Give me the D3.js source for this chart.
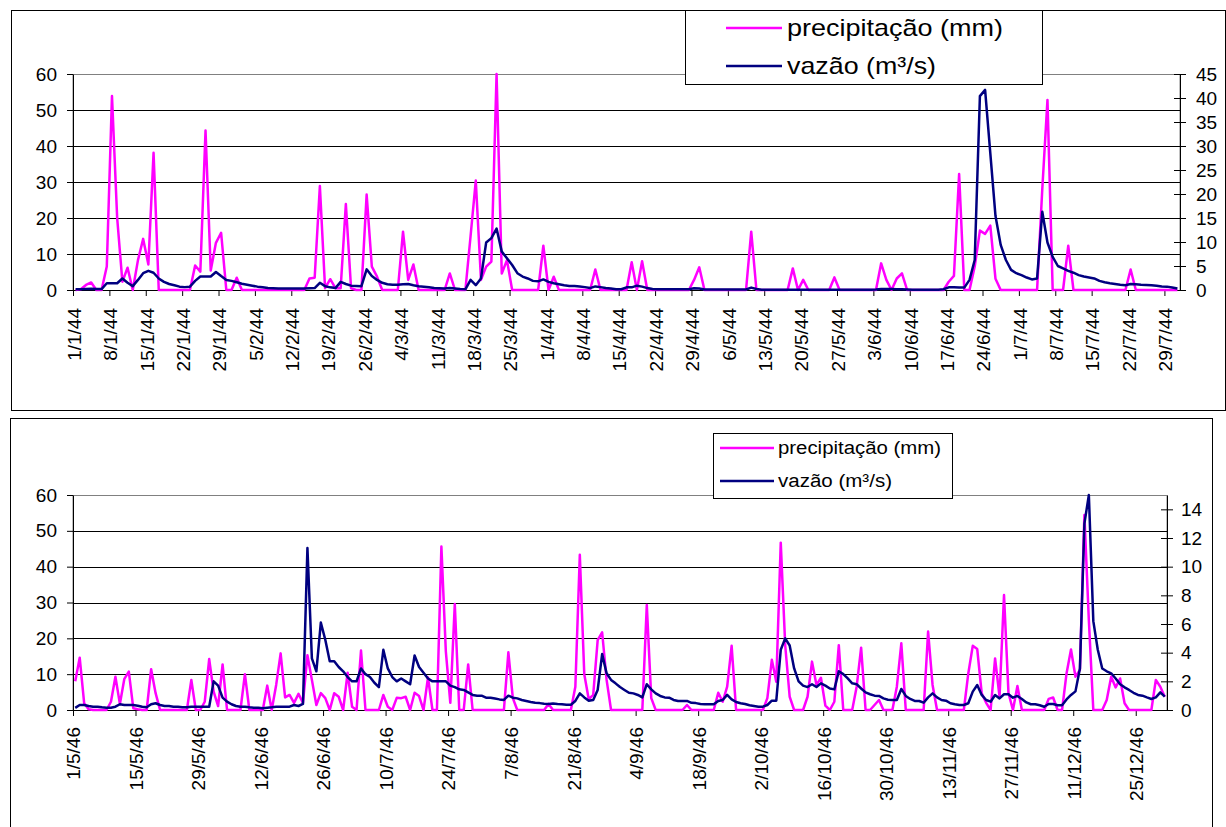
<!DOCTYPE html>
<html>
<head>
<meta charset="utf-8">
<script src="https://cdn.jsdelivr.net/npm/d3@7"></script>
<style>
  body { margin: 0; background: #fff; }
  svg { display: block; }
</style>
</head>
<body>
<div id="chart"></div>
<script>
// daily values, one row per week
const precip1944 = [
  0, 0.2, 1.4, 2.1, 0, 0, 6.5,
  53.9, 20, 2.3, 6.2, 0, 8.3, 14.2,
  7.1, 38.1, 0, 0, 0, 0, 0,
  0, 0, 6.8, 5.1, 44.3, 5.4, 13.1,
  15.9, 0, 0, 3.4, 0, 0, 0,
  0, 0, 0, 0, 0, 0, 0,
  0, 0, 0, 3.2, 3.4, 28.9, 0.5,
  3.0, 0.5, 0.5, 23.9, 0.5, 0, 0,
  26.5, 6.5, 3.7, 0, 0, 0, 0,
  16.2, 2.8, 7.1, 0, 0, 0, 0,
  0, 0, 4.6, 0, 0, 0, 15,
  30.4, 2.8, 6.5, 7.9, 60, 4.6, 8.3,
  0, 0, 0, 0, 0, 0, 12.3,
  0, 3.7, 0, 0, 0, 0, 0,
  0, 0, 5.7, 0, 0, 0, 0,
  0, 0, 7.7, 0, 8.0, 0, 0,
  0, 0, 0, 0, 0, 0, 0,
  2.8, 6.3, 0, 0, 0, 0, 0,
  0, 0, 0, 0, 16.2, 0, 0,
  0, 0, 0, 0, 0, 6.0, 0,
  2.8, 0, 0, 0, 0, 0, 3.5,
  0, 0, 0, 0, 0, 0, 0,
  0, 7.4, 2.8, 0, 3.2, 4.6, 0,
  0, 0, 0, 0, 0, 0, 0,
  2.3, 3.9, 32.2, 0, 0, 6.5, 16.5,
  15.6, 17.9, 3.1, 0, 0, 0, 0,
  0, 0, 0, 0, 28, 52.8, 0,
  0, 0, 12.3, 0, 0, 0, 0,
  0, 0, 0, 0, 0, 0, 0,
  5.7, 0, 0, 0, 0, 0, 0,
  0, 0, 0
];

const flow1944 = [
  0.15, 0.15, 0.2, 0.25, 0.2, 0.2, 1.4,
  1.4, 1.4, 2.4, 1.5, 0.8, 2.1, 3.5,
  4.0, 3.6, 2.4, 1.7, 1.25, 1.0, 0.7,
  0.6, 0.7, 1.9, 2.8, 2.8, 2.8, 3.75,
  2.9, 2.1, 1.9, 1.6, 1.3, 1.1, 0.9,
  0.7, 0.55, 0.4, 0.35, 0.3, 0.3, 0.3,
  0.3, 0.3, 0.3, 0.35, 0.4, 1.5, 0.8,
  0.55, 0.4, 1.7, 1.25, 0.9, 0.85, 0.8,
  4.3, 2.9, 2.1, 1.5, 1.2, 1.1, 1.1,
  1.2, 1.25, 1.0, 0.8, 0.7, 0.55, 0.4,
  0.35, 0.3, 0.4, 0.3, 0.2, 0.15, 2.1,
  1.0, 2.4, 9.9, 10.8, 12.8, 8.0, 6.6,
  5.2, 3.5, 2.8, 2.4, 1.9, 1.8, 2.2,
  1.7, 1.4, 1.2, 1.0, 0.85, 0.85, 0.75,
  0.6, 0.4, 0.75, 0.6, 0.4, 0.3, 0.15,
  0.15, 0.55, 0.55, 0.9, 0.7, 0.4, 0.2,
  0.15, 0.15, 0.15, 0.15, 0.15, 0.15, 0.15,
  0.35, 0.3, 0.1, 0.1, 0.1, 0.1, 0.1,
  0.1, 0.1, 0.1, 0.1, 0.5, 0.2, 0.05,
  0.05, 0.05, 0.05, 0.05, 0.05, 0.05, 0.05,
  0.05, 0.05, 0.05, 0.05, 0.05, 0.05, 0.05,
  0.05, 0.05, 0.05, 0.05, 0.05, 0.05, 0.05,
  0.1, 0.2, 0.2, 0.2, 0.15, 0.15, 0.1,
  0.05, 0.05, 0.05, 0.05, 0.05, 0.05, 0.15,
  0.55, 0.55, 0.5, 0.5, 2.1, 6.25, 40.4,
  41.7, 28.5, 15.4, 9.4, 6.25, 4.2, 3.5,
  3.1, 2.6, 2.2, 2.4, 16.3, 9.9, 6.9,
  5.0, 4.5, 4.0, 3.6, 3.1, 2.8, 2.6,
  2.4, 1.9, 1.6, 1.4, 1.25, 1.1, 1.0,
  1.25, 1.2, 1.1, 1.05, 1.0, 0.9, 0.75,
  0.7, 0.5, 0.3
];

const ticks1944 = ["1/1/44", "8/1/44", "15/1/44", "22/1/44", "29/1/44", "5/2/44", "12/2/44",
  "19/2/44", "26/2/44", "4/3/44", "11/3/44", "18/3/44", "25/3/44", "1/4/44", "8/4/44",
  "15/4/44", "22/4/44", "29/4/44", "6/5/44", "13/5/44", "20/5/44", "27/5/44", "3/6/44",
  "10/6/44", "17/6/44", "24/6/44", "1/7/44", "8/7/44", "15/7/44", "22/7/44", "29/7/44"];

const precip1946 = [
  8, 14.6, 1.9, 0.2, 0, 0, 0,
  0, 2.3, 9.3, 1.7, 8.7, 10.7, 0.5,
  0.2, 0, 0, 11.4, 4.7, 0, 0,
  0, 0, 0, 0, 0, 8.4, 0,
  0, 2.3, 14.2, 5.1, 1.1, 12.7, 0,
  0, 0, 0, 10, 0, 0, 0,
  0, 6.8, 0, 7, 15.8, 3.5, 4.2,
  2.0, 4.5, 2.0, 15.3, 8.4, 1.4, 4.7,
  3.3, 0, 4.7, 3.7, 0, 10.4, 0.9,
  0, 16.6, 0, 0, 0, 0, 4.2,
  0.9, 0, 3.4, 3.3, 3.7, 0, 4.8,
  3.9, 0, 9.1, 0, 0, 45.6, 16.3,
  2.0, 29.6, 0, 0, 12.7, 0, 0,
  0, 0, 0, 0, 0, 0, 16.1,
  3.3, 0, 0, 0, 0, 0, 0,
  0, 1.7, 0, 0, 0, 0, 0,
  6.5, 43.3, 10, 3, 4.2, 19.5, 21.7,
  8.4, 0, 0, 0, 0, 0, 0,
  0, 0, 29.3, 3.3, 0, 0, 0,
  0, 0, 0, 0, 1.4, 0, 0,
  0, 0, 0, 0, 4.8, 2.3, 6.5,
  17.9, 0, 0, 0, 0, 0, 0,
  0, 3.3, 14.0, 7.9, 46.7, 18, 3.7,
  0, 0, 0, 3.7, 13.5, 7.0, 9.0,
  1.2, 0, 2.3, 18.1, 0, 0, 0,
  6.5, 17.4, 0, 0, 1.4, 2.8, 0,
  0, 0, 6.5, 18.6, 0, 0, 0,
  0, 0, 21.9, 7.0, 0, 0, 0,
  0, 0, 0, 0, 10.2, 17.9, 17.0,
  4.7, 2.0, 0, 14.4, 3.7, 32.1, 4.7,
  0, 6.7, 0, 0, 0, 0, 0,
  0, 3.1, 3.5, 0, 0, 10.2, 16.9,
  9.3, 11.2, 54.4, 25, 0, 0, 0,
  2.8, 9.3, 6.3, 8.8, 1.9, 0, 0,
  0, 0, 0, 0, 8.4, 6.5, 3.7
];

const flow1946 = [
  0.15, 0.35, 0.35, 0.28, 0.23, 0.23, 0.19,
  0.16, 0.16, 0.23, 0.4, 0.35, 0.35, 0.35,
  0.3, 0.23, 0.19, 0.4, 0.47, 0.35, 0.28,
  0.28, 0.23, 0.23, 0.19, 0.19, 0.23, 0.23,
  0.23, 0.23, 0.23, 2.0, 1.7, 0.86, 0.58,
  0.4, 0.28, 0.23, 0.23, 0.19, 0.16, 0.16,
  0.12, 0.16, 0.19, 0.23, 0.23, 0.23, 0.23,
  0.35, 0.28, 0.42, 11.3, 3.6, 2.7, 6.1,
  4.9, 3.4, 3.4, 3.0, 2.7, 2.3, 2.0,
  2.0, 2.9, 2.5, 2.3, 1.9, 1.6, 4.2,
  2.9, 2.3, 2.0, 2.2, 2.0, 1.8, 3.8,
  3.0, 2.6, 2.2, 2.0, 2.0, 2.0, 2.0,
  1.7, 1.6, 1.44, 1.4, 1.23, 1.05, 1.0,
  1.0, 0.86, 0.86, 0.8, 0.74, 0.7, 1.0,
  0.86, 0.81, 0.7, 0.63, 0.56, 0.5, 0.48,
  0.44, 0.42, 0.46, 0.42, 0.4, 0.37, 0.37,
  0.63, 1.16, 0.88, 0.65, 0.7, 1.4, 3.9,
  2.56, 2.1, 1.86, 1.6, 1.4, 1.2, 1.16,
  1.05, 0.88, 1.8, 1.44, 1.16, 0.98, 0.88,
  0.86, 0.7, 0.63, 0.63, 0.63, 0.5, 0.48,
  0.42, 0.4, 0.4, 0.4, 0.63, 0.7, 1.05,
  0.74, 0.56, 0.47, 0.42, 0.33, 0.28, 0.23,
  0.23, 0.35, 0.65, 0.65, 4.2, 5.0, 4.5,
  2.9, 2.0, 1.7, 1.6, 1.8, 1.6, 1.86,
  1.7, 1.5, 1.44, 2.7, 2.5, 2.2, 1.86,
  1.8, 1.5, 1.23, 1.1, 1.0, 0.98, 0.81,
  0.72, 0.7, 0.7, 1.47, 0.98, 0.77, 0.63,
  0.63, 0.51, 0.88, 1.16, 0.88, 0.7, 0.65,
  0.47, 0.4, 0.35, 0.35, 0.47, 1.28, 1.74,
  1.05, 0.7, 0.58, 1.05, 0.81, 1.1, 1.1,
  0.86, 0.98, 0.77, 0.53, 0.4, 0.4, 0.33,
  0.23, 0.42, 0.42, 0.33, 0.33, 0.74, 1.05,
  1.3, 2.9, 13.0, 15.0, 6.2, 4.2, 2.9,
  2.7, 2.56, 2.2, 1.8, 1.58, 1.4, 1.2,
  1.05, 1.0, 0.88, 0.77, 0.88, 1.23, 0.93
];

const ticks1946 = ["1/5/46", "15/5/46", "29/5/46", "12/6/46", "26/6/46", "10/7/46",
  "24/7/46", "7/8/46", "21/8/46", "4/9/46", "18/9/46", "2/10/46", "16/10/46",
  "30/10/46", "13/11/46", "27/11/46", "11/12/46", "25/12/46"];

const seriesNames = ["precipitação (mm)", "vazão (m³/s)"];
const seriesColors = ["#ff00ff", "#000080"];
const precipTicks = [0, 10, 20, 30, 40, 50, 60];

const FONT = "'Liberation Sans', Arial, sans-serif";
const W = 1226, H = 827;

const svg = d3.select("#chart").append("svg")
  .attr("width", W)
  .attr("height", H)
  .style("font-family", FONT);

svg.append("rect").attr("width", W).attr("height", H).attr("fill", "#fff");

const panels = [
  {
    days: d3.timeDay.range(new Date(1944, 0, 1), new Date(1944, 7, 1)),
    precip: precip1944, flow: flow1944, labels: ticks1944, every: 7,
    frame: [11, 10, 1214, 400],
    plot: { left: 73, right: 1180, top: 74, bottom: 290 },
    flowMax: 45, flowTicks: d3.range(0, 46, 5), rightPad: 10,
    font: 19, labelGap: 18,
    legend: { x: 685, y: 10, w: 357, h: 74, x0: 726, x1: 782, rows: [28, 66], tx: 787, font: 24, lens: [216, 149] }
  },
  {
    days: d3.timeDay.range(new Date(1946, 4, 1), new Date(1947, 0, 1)),
    precip: precip1946, flow: flow1946, labels: ticks1946, every: 14,
    frame: [10, 418, 1202, 430],
    plot: { left: 73, right: 1167, top: 495, bottom: 710 },
    flowMax: 15, flowTicks: d3.range(0, 15, 2), rightPad: 8,
    font: 19, labelGap: 17,
    legend: { x: 713, y: 433, w: 239, h: 65, x0: 720, x1: 774, rows: [448, 481], tx: 778, font: 18, lens: [163, 114] }
  }
];

function drawPanel(p) {
  const g = svg.append("g");
  const n = p.days.length;
  const pl = p.plot;

  g.append("rect")
    .attr("x", p.frame[0] + 0.5).attr("y", p.frame[1] + 0.5)
    .attr("width", p.frame[2]).attr("height", p.frame[3])
    .attr("fill", "none").attr("stroke", "#000");

  const x = d3.scaleBand().domain(d3.range(n)).range([pl.left, pl.right]);
  const xb = d3.scaleLinear().domain([0, n]).range([pl.left, pl.right]);
  const yL = d3.scaleLinear().domain([0, 60]).range([pl.bottom, pl.top]);
  const yR = d3.scaleLinear().domain([0, p.flowMax]).range([pl.bottom, pl.top]);

  // plot border + gridlines
  g.append("rect")
    .attr("x", pl.left).attr("y", pl.top + 0.5)
    .attr("width", pl.right - pl.left).attr("height", pl.bottom - pl.top)
    .attr("fill", "none").attr("stroke", "#808080");

  const grid = g.append("g")
    .attr("transform", `translate(${pl.left},0)`)
    .call(d3.axisLeft(yL).tickValues([10, 20, 30, 40, 50]).tickSize(-(pl.right - pl.left)).tickFormat(""));
  grid.select(".domain").remove();
  grid.selectAll("line").attr("stroke", "#000").attr("shape-rendering", "crispEdges");

  // left axis
  const ax = g.append("g")
    .attr("transform", `translate(${pl.left},0)`)
    .call(d3.axisLeft(yL).tickValues(precipTicks).tickSize(6).tickSizeOuter(0).tickPadding(10));
  ax.attr("font-family", FONT).attr("font-size", p.font);
  ax.selectAll("line, path").attr("stroke", "#000");
  ax.selectAll("text").attr("fill", "#000");

  // right axis, ticks cross the line
  const ar = g.append("g")
    .attr("transform", `translate(${pl.right},0)`)
    .call(d3.axisRight(yR).tickValues(p.flowTicks).tickSize(6).tickSizeOuter(0).tickPadding(p.rightPad));
  ar.attr("font-family", FONT).attr("font-size", p.font);
  ar.selectAll("line").attr("x1", -6).attr("stroke", "#000");
  ar.select(".domain").attr("stroke", "#000");
  ar.selectAll("text").attr("fill", "#000");

  // x axis: marks between categories, labels at category centres
  const am = g.append("g")
    .attr("transform", `translate(0,${pl.bottom})`)
    .call(d3.axisBottom(xb).tickValues(d3.range(0, n, p.every)).tickSize(6).tickSizeOuter(0).tickFormat(""));
  am.selectAll("line, path").attr("stroke", "#000");

  const labelIdx = d3.range(0, n, p.every);
  const al = g.append("g")
    .attr("transform", `translate(0,${pl.bottom})`)
    .call(d3.axisBottom(x).tickValues(labelIdx).tickSize(0).tickFormat((d, i) => p.labels[i]));
  al.select(".domain").remove();
  al.attr("font-family", FONT).attr("font-size", p.font);
  al.selectAll("text")
    .attr("fill", "#000")
    .attr("transform", "rotate(-90)")
    .attr("text-anchor", "end")
    .attr("x", -p.labelGap)
    .attr("y", -1.5)
    .attr("dy", "0.35em");

  // series
  const cx = i => x(i) + x.bandwidth() / 2;
  g.append("path").datum(p.precip)
    .attr("fill", "none").attr("stroke", seriesColors[0]).attr("stroke-width", 2.5)
    .attr("stroke-linejoin", "round")
    .attr("d", d3.line().x((d, i) => cx(i)).y(d => yL(d)));
  g.append("path").datum(p.flow)
    .attr("fill", "none").attr("stroke", seriesColors[1]).attr("stroke-width", 2.5)
    .attr("stroke-linejoin", "round")
    .attr("d", d3.line().x((d, i) => cx(i)).y(d => yR(d)));

  // legend
  const lg = p.legend;
  g.append("rect")
    .attr("x", lg.x + 0.5).attr("y", lg.y + 0.5).attr("width", lg.w).attr("height", lg.h)
    .attr("fill", "#fff").attr("stroke", "#000");
  seriesNames.forEach((name, k) => {
    g.append("line")
      .attr("x1", lg.x0).attr("x2", lg.x1).attr("y1", lg.rows[k]).attr("y2", lg.rows[k])
      .attr("stroke", seriesColors[k]).attr("stroke-width", 2.5);
    g.append("text")
      .attr("x", lg.tx).attr("y", lg.rows[k]).attr("dy", "0.35em")
      .attr("font-size", lg.font).attr("fill", "#000")
      .attr("textLength", lg.lens[k]).attr("lengthAdjust", "spacingAndGlyphs")
      .text(name);
  });
}

panels.forEach(drawPanel);
</script>
</body>
</html>
